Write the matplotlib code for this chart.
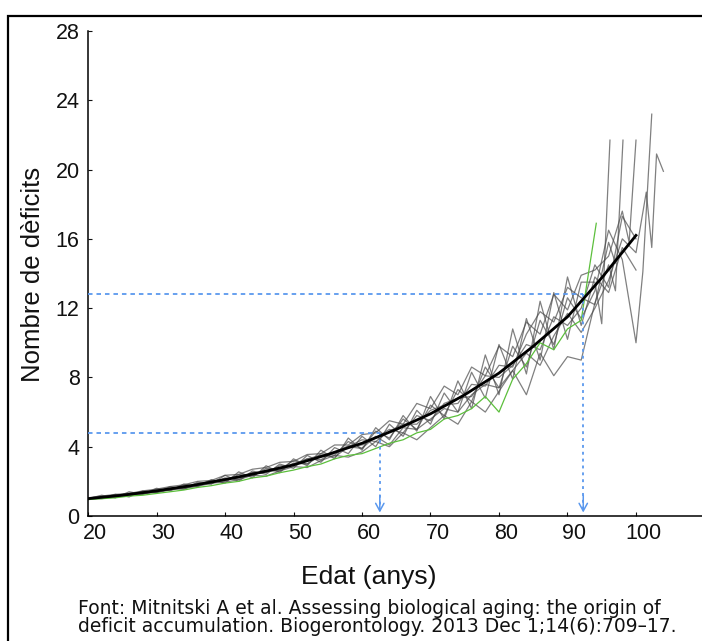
import matplotlib
matplotlib.use('Agg')
import matplotlib.pyplot as plt
import matplotlib.transforms as mtransforms
from matplotlib.patches import Rectangle

plt.rcParams['font.family'] = ['Liberation Sans', 'DejaVu Sans']

# ages of the simulated runs (every 2 years up to 92)
ages_main = [20, 22, 24, 26, 28, 30, 32, 34, 36, 38, 40, 42, 44, 46, 48, 50, 52, 54, 56,
             58, 60, 62, 64, 66, 68, 70, 72, 74, 76, 78, 80, 82, 84, 86, 88, 90, 92]

run_a = [1.0, 1.2, 1.05, 1.4, 1.25, 1.6, 1.45, 1.85, 1.7, 2.1, 1.9, 2.55, 2.2, 2.9, 2.5,
         3.3, 2.9, 3.8, 3.3, 4.5, 3.8, 5.1, 4.4, 5.8, 4.9, 6.9, 5.6, 7.8, 6.2, 9.3,
         7.0, 10.8, 8.2, 12.4, 9.6, 13.8, 11.0]
run_b = [0.95, 1.05, 1.25, 1.1, 1.45, 1.35, 1.7, 1.55, 1.95, 1.85, 2.35, 2.0, 2.6, 2.4, 3.0,
         2.75, 3.5, 3.1, 3.95, 3.6, 4.6, 4.0, 5.3, 4.6, 6.1, 5.3, 7.1, 6.0, 8.3, 6.8,
         9.9, 7.9, 11.4, 9.0, 12.9, 10.2, 13.5]
run_c = [1.0, 1.0, 1.1, 1.2, 1.3, 1.35, 1.5, 1.6, 1.7, 1.9, 1.95, 2.1, 2.35, 2.3, 2.6,
         2.85, 2.8, 3.2, 3.5, 3.4, 3.7, 4.3, 4.0, 4.8, 4.4, 5.1, 5.8, 5.3, 6.6, 6.0,
         7.2, 8.4, 7.0, 9.4, 8.1, 9.2, 9.0]
run_d = [1.05, 1.15, 1.25, 1.3, 1.45, 1.55, 1.7, 1.8, 2.0, 2.05, 2.35, 2.4, 2.7, 2.8, 3.1,
         3.15, 3.55, 3.6, 4.1, 4.1, 4.7, 4.8, 5.5, 5.3, 6.5, 6.2, 7.5, 7.0, 8.6, 8.1,
         9.8, 9.2, 11.2, 10.5, 12.8, 11.9, 13.9]
run_e = [1.0, 1.1, 1.2, 1.2, 1.35, 1.5, 1.5, 1.75, 1.8, 2.05, 2.0, 2.4, 2.3, 2.75, 2.7,
         3.2, 3.0, 3.6, 3.5, 4.3, 3.9, 4.9, 4.5, 5.6, 5.0, 6.4, 5.8, 7.3, 6.6, 8.6,
         7.4, 9.8, 8.6, 11.3, 9.9, 12.6, 11.4]
run_f = [1.0, 1.05, 1.15, 1.3, 1.25, 1.45, 1.6, 1.55, 1.85, 1.85, 2.2, 2.1, 2.5, 2.55, 2.65,
         3.05, 3.0, 3.5, 3.4, 4.0, 3.9, 4.6, 4.1, 5.1, 5.0, 5.6, 6.2, 6.0, 7.0, 7.6,
         7.4, 8.4, 9.4, 8.7, 10.4, 11.7, 10.6]
run_g = [0.95, 1.1, 1.1, 1.25, 1.4, 1.35, 1.55, 1.65, 1.8, 1.95, 2.1, 2.2, 2.35, 2.65, 2.6,
         3.0, 3.3, 3.25, 3.7, 4.05, 4.1, 4.5, 5.0, 4.8, 5.8, 5.5, 6.5, 6.8, 6.9, 8.1,
         8.0, 8.7, 9.9, 9.6, 11.5, 11.0, 12.0]
run_h = [1.0, 1.05, 1.2, 1.3, 1.3, 1.5, 1.6, 1.65, 1.75, 2.0, 2.15, 2.2, 2.5, 2.5, 2.9,
         2.9, 3.3, 3.5, 3.6, 4.0, 4.4, 4.3, 4.9, 5.3, 5.3, 6.1, 6.4, 6.5, 7.6, 7.5,
         8.7, 8.6, 10.5, 11.8, 11.2, 13.2, 12.6]
run_green = [0.95, 1.0, 1.05, 1.15, 1.2, 1.3, 1.4, 1.5, 1.65, 1.75, 1.9, 2.0, 2.2, 2.3, 2.5,
             2.65, 2.85, 3.0, 3.3, 3.5, 3.6, 3.9, 4.2, 4.4, 4.8, 5.0, 5.6, 5.8, 6.2, 6.9,
             6.0, 7.9, 8.8, 10.0, 9.6, 10.8, 11.3]

# oldest ages: few survivors, very noisy
tail_a_ages = [92, 94, 96, 98, 100]
tail_a = [11.0, 13.8, 12.9, 15.5, 14.2]
tail_b_ages = [92, 94, 95, 96.2]
tail_b = [13.5, 13.5, 11.1, 21.7]
tail_c_ages = [92, 94, 96, 97, 98.1]
tail_c = [9.0, 12.3, 14.5, 13.0, 21.7]
tail_d_ages = [92, 94, 96, 98, 99, 100]
tail_d = [13.9, 14.2, 15.0, 17.6, 15.8, 21.7]
tail_e_ages = [92, 94, 96, 98, 100, 101, 102.3]
tail_e = [11.4, 13.0, 16.5, 14.8, 10.0, 14.1, 23.2]
tail_f_ages = [92, 94, 96, 98, 100, 101.5, 102.3, 103, 104]
tail_f = [10.6, 12.0, 13.6, 16.0, 15.2, 18.7, 15.5, 20.9, 19.9]
tail_g_ages = [92, 94, 96, 98, 100]
tail_g = [12.0, 14.5, 13.2, 17.3, 16.0]
tail_h_ages = [92, 94, 96, 97]
tail_h = [12.6, 12.2, 15.8, 14.6]
tail_green_ages = [92, 94.2]
tail_green = [11.3, 16.9]

# fitted curve
fit_ages = [20, 25, 30, 35, 40, 45, 50, 55, 60, 65, 70, 75, 80, 85, 90, 95, 100]
fit_vals = [1.0, 1.2, 1.45, 1.75, 2.1, 2.5, 2.95, 3.55, 4.2, 5.0, 5.9, 7.0, 8.25, 9.8, 11.5, 13.75, 16.2]

# reading examples (age, deficits)
guide_ages = [62.6, 92.3]
guide_vals = [4.8, 12.8]

x_ticks = [20, 30, 40, 50, 60, 70, 80, 90, 100]
y_ticks = [0, 4, 8, 12, 16, 20, 24, 28]

gray = '#4a4a4a'
green = '#5cbf3c'
blue = '#5a98ee'

fig = plt.figure(figsize=(7.02, 6.41), dpi=100)
ax = fig.add_axes([88 / 702, 125 / 641, 616.5 / 702, 485 / 641])

runs = [(run_a, tail_a_ages, tail_a), (run_b, tail_b_ages, tail_b),
        (run_c, tail_c_ages, tail_c), (run_d, tail_d_ages, tail_d),
        (run_e, tail_e_ages, tail_e), (run_f, tail_f_ages, tail_f),
        (run_g, tail_g_ages, tail_g), (run_h, tail_h_ages, tail_h)]
for vals, t_ages, t_vals in runs:
    ax.plot(ages_main + t_ages[1:], vals + t_vals[1:], color=gray, lw=0.9, alpha=0.7, zorder=2)
ax.plot(ages_main + tail_green_ages[1:], run_green + tail_green[1:], color=green, lw=0.9, zorder=2)

ax.plot(fit_ages, fit_vals, color='black', lw=2.0, zorder=4)

# dashed guide lines with arrows down to the age axis
for gx, gy in zip(guide_ages, guide_vals):
    ax.plot([20, gx], [gy, gy], color=blue, lw=1.3, linestyle=(0, (2.5, 2.2)), zorder=3)
    ax.plot([gx, gx], [gy, 0.3], color=blue, lw=1.3, linestyle=(0, (1.6, 2.2)), zorder=3)
    ax.annotate('', xy=(gx, 0.2), xytext=(gx, 1.2),
                arrowprops=dict(arrowstyle='->,head_length=0.55,head_width=0.3',
                                color=blue, lw=1.1, shrinkA=0, shrinkB=0), zorder=3)

ax.set_xlim(20, 110)
ax.set_ylim(0, 28)
ax.set_xticks(x_ticks)
ax.set_yticks(y_ticks)
for side in ['top', 'right']:
    ax.spines[side].set_visible(False)
for side in ['left', 'bottom']:
    ax.spines[side].set_linewidth(1.1)
ax.tick_params(direction='in', length=3, width=0.8, labelsize=15.5, colors='#111111')
ax.tick_params(axis='y', pad=6)
ax.tick_params(axis='x', pad=5)

shift = mtransforms.ScaledTranslation(5 / 72, 0, fig.dpi_scale_trans)
for lab in ax.get_xticklabels():
    lab.set_transform(lab.get_transform() + shift)

fig.text(33 / 702, 1 - 274 / 641, 'Nombre de dèficits', rotation=90,
         ha='center', va='center', fontsize=18.5, color='#111111')
fig.text(369 / 702, 1 - 577 / 641, 'Edat (anys)', ha='center', va='center',
         fontsize=19, color='#111111')
fig.text(78 / 702, 1 - 608 / 641,
         'Font: Mitnitski A et al. Assessing biological aging: the origin of',
         ha='left', va='center', fontsize=13.5, color='#111111', family='DejaVu Sans')
fig.text(78 / 702, 1 - 627 / 641,
         'deficit accumulation. Biogerontology. 2013 Dec 1;14(6):709\u201317.',
         ha='left', va='center', fontsize=13.5, color='#111111', family='DejaVu Sans')

# outer frame (runs off the right and bottom edges)
fig.patches.append(Rectangle((8 / 702, -0.1), 1.0, 1 - 16 / 641 + 0.1,
                             transform=fig.transFigure, fill=False,
                             edgecolor='black', lw=1.6))

fig.savefig('out.png', dpi=100)
